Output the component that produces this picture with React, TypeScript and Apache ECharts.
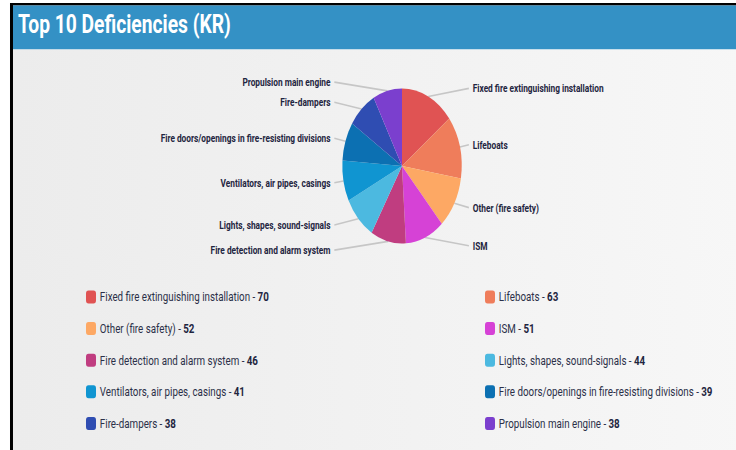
import React, { useEffect, useRef } from "react";
import * as echarts from "echarts";

const chartTitle = "Top 10 Deficiencies (KR)";
const categories = [
  "Fixed fire extinguishing installation",
  "Lifeboats",
  "Other (fire safety)",
  "ISM",
  "Fire detection and alarm system",
  "Lights, shapes, sound-signals",
  "Ventilators, air pipes, casings",
  "Fire doors/openings in fire-resisting divisions",
  "Fire-dampers",
  "Propulsion main engine",
];
const values = [70, 63, 52, 51, 46, 44, 41, 39, 38, 38];
const colors = [
  "#e05353",
  "#ef7d5b",
  "#fda864",
  "#d642d6",
  "#c03d80",
  "#4cb9e0",
  "#1095d1",
  "#0c70b2",
  "#2f4db2",
  "#7b3fce",
];

const S = 0.77;
const W = 736 / S;
const H = 450;
const X = (v: number) => v / S;

export default function App() {
  const ref = useRef<HTMLDivElement>(null);
  useEffect(() => {
    const chart = echarts.init(ref.current!, null, { renderer: "svg", width: W, height: H });
    const data = categories.map((name, i) => ({
      name,
      value: values[i],
      itemStyle: { color: colors[i] },
    }));
    const valueOf: Record<string, number> = {};
    categories.forEach((c, i) => (valueOf[c] = values[i]));
    const legendText = {
      fontFamily: "Roboto",
      rich: {
        n: { fontSize: 12.7, color: "#2b3048", fontFamily: "Roboto" },
        v: { fontSize: 12.7, fontWeight: "bold", color: "#1e2540", fontFamily: "Roboto" },
      },
    };
    const legendBase = {
      orient: "vertical",
      top: 290.5,
      padding: 0,
      itemWidth: 13,
      itemHeight: 13,
      itemGap: 18.6,
      icon: "roundRect",
      selectedMode: false,
      formatter: (name: string) => `{n|${name} - }{v|${valueOf[name]}}`,
      textStyle: legendText,
    };
    chart.setOption({
      animation: false,
      title: {
        text: chartTitle,
        left: X(18),
        top: 12,
        padding: 0,
        textStyle: { color: "#ffffff", fontSize: 25, fontWeight: "bold", fontFamily: "Roboto" },
      },
      graphic: [
        { type: "rect", z: -10, shape: { x: X(10), y: 3, width: X(3), height: H }, style: { fill: "#000000" } },
        { type: "rect", z: -10, shape: { x: X(10), y: 3, width: W, height: 2.5 }, style: { fill: "#000000" } },
        { type: "rect", z: -9, shape: { x: X(13), y: 5.5, width: W, height: 44 }, style: { fill: "#3491c5" } },
        {
          type: "rect",
          z: -9,
          shape: { x: X(13), y: 49.5, width: W, height: 401 },
          style: {
            fill: new echarts.graphic.LinearGradient(0, 0, 1, 0, [
              { offset: 0, color: "#ececec" },
              { offset: 1, color: "#f7f7f7" },
            ]),
          },
        },
      ],
      legend: [
        { ...legendBase, left: X(86), data: categories.filter((_, i) => i % 2 === 0) },
        { ...legendBase, left: X(485), data: categories.filter((_, i) => i % 2 === 1) },
      ],
      series: [
        {
          type: "pie",
          center: [X(402), 166],
          radius: 77.5,
          startAngle: 90,
          clockwise: true,
          avoidLabelOverlap: true,
          data,
          label: {
            show: true,
            position: "outer",
            alignTo: "labelLine",
            formatter: "{b}",
            color: "#1e2540",
            fontSize: 10.8,
            fontWeight: "bold",
            fontFamily: "Roboto",
            distanceToLabelLine: 5,
          },
          labelLine: {
            show: true,
            length: 9,
            length2: 3,
            lineStyle: { color: "#c6c6c6", width: 1.6 },
          },
          labelLayout: (params: any) => {
            const p = params.labelLinePoints;
            if (!p || p.length < 3) return {};
            return { labelLinePoints: [p[0], p[2], p[2]] };
          },
          emphasis: { disabled: true },
        },
      ],
    });
    return () => chart.dispose();
  }, []);
  return (
    <div
      style={{
        position: "fixed",
        left: 0,
        top: 0,
        width: 736,
        height: 450,
        overflow: "hidden",
        background: "#ffffff",
      }}
    >
      <div
        ref={ref}
        style={{ width: W, height: H, transform: `scaleX(${S})`, transformOrigin: "0 0" }}
      />
    </div>
  );
}
